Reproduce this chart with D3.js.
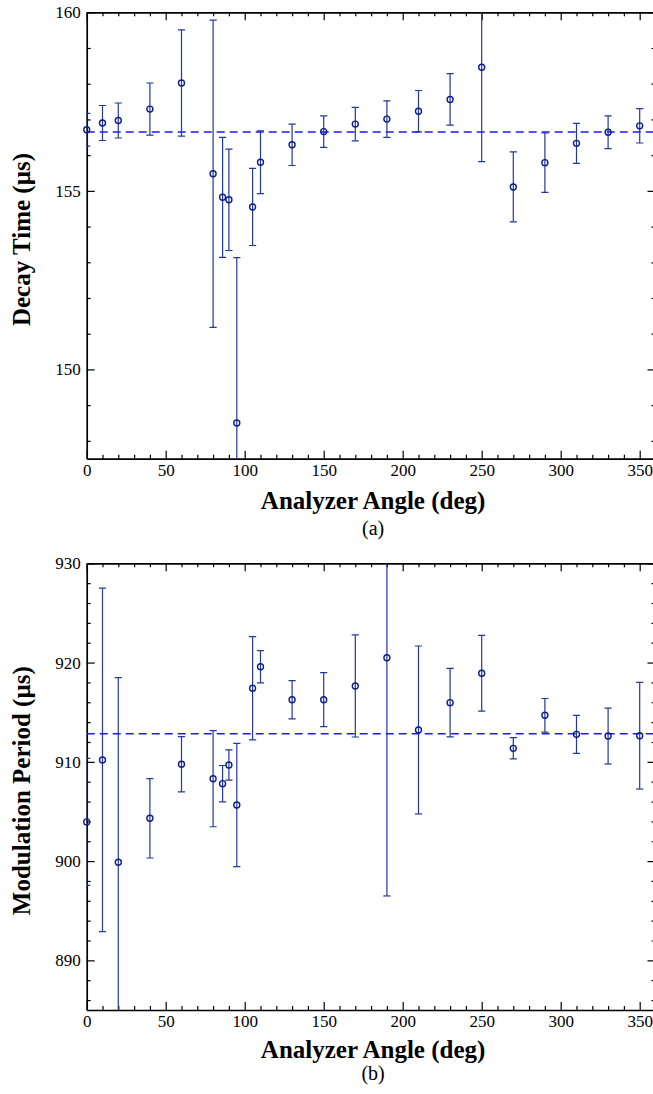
<!DOCTYPE html>
<html><head><meta charset="utf-8">
<script src="https://cdn.jsdelivr.net/npm/d3@7"></script>
<style>body{margin:0;background:#fff}svg{display:block}text{font-family:"Liberation Serif","Times New Roman",Times,serif}</style>
</head><body>
<svg id="c" width="653" height="1094"></svg>
<script>
const angles = [0,10,20,40,60,80,86,90,95,105,110,130,150,170,190,210,230,250,270,290,310,330,350];
const decayTime = [156.71,156.90,156.97,157.29,158.02,155.48,154.82,154.75,148.50,154.55,155.80,156.29,156.66,156.87,157.01,157.23,157.56,158.46,155.11,155.79,156.33,156.64,156.82];
const decayErr  = [0.46,0.49,0.49,0.73,1.49,4.30,1.68,1.42,4.63,1.08,0.88,0.58,0.44,0.47,0.51,0.58,0.72,2.64,0.98,0.83,0.56,0.46,0.48];
const decayMean = 156.65;
const modPeriod = [903.95,910.19,899.88,904.31,909.75,908.30,907.80,909.68,905.65,917.41,919.58,916.26,916.26,917.64,920.49,913.21,915.96,918.92,911.36,914.69,912.77,912.60,912.63];
const modErr    = [6.4,17.3,18.6,4.0,2.78,4.84,1.83,1.53,6.2,5.2,1.63,1.93,2.72,5.14,24.0,8.46,3.45,3.81,1.07,1.69,1.92,2.82,5.37];
const modMean = 912.83;
const xTicks = [0,50,100,150,200,250,300,350];
const xDomain = [0,360];
const decayTicks = [150,155,160];
const decayDomain = [147.5,160];
const modTicks = [890,900,910,920,930];
const modDomain = [885,930];

const SERIF = '"Liberation Serif","Times New Roman",Times,serif';
const svg = d3.select('#c');
const left = 86.7, right = 655.5;
const x = d3.scaleLinear().domain(xDomain).range([left, right]);

function panel(id, top, bottom, yDomain, yTicks, minorStep, values, errs, mean, yLabel, xlabY, subY, sub) {
  const y = d3.scaleLinear().domain(yDomain).range([bottom, top]);
  const g = svg.append('g');
  g.append('clipPath').attr('id', 'clip' + id).append('rect')
    .attr('x', left).attr('y', top).attr('width', right - left).attr('height', bottom - top);

  const xMinor = d3.range(xDomain[0], xDomain[1] + 0.001, 10).filter(v => v % 50 !== 0);
  const yMinor = d3.range(Math.ceil(yDomain[0] / minorStep) * minorStep, yDomain[1] + 0.001, minorStep)
    .filter(v => !yTicks.some(t => Math.abs(t - v) < 1e-6));

  const style = (a) => {
    a.attr('font-family', SERIF).attr('font-size', 17);
    a.select('.domain').attr('stroke', '#000').attr('stroke-width', 1.7);
    a.selectAll('.tick line').attr('stroke', '#000').attr('stroke-width', 1.2);
    a.selectAll('text').style('font-family', SERIF).style('font-size', '17px').attr('fill', '#000');
  };
  // minor ticks
  g.append('g').attr('transform', `translate(0,${bottom})`)
    .call(d3.axisBottom(x).tickValues(xMinor).tickSize(-4).tickSizeOuter(0).tickFormat('')).call(style).select('.domain').remove();
  g.append('g').attr('transform', `translate(0,${top})`)
    .call(d3.axisTop(x).tickValues(xMinor).tickSize(-4).tickSizeOuter(0).tickFormat('')).call(style).select('.domain').remove();
  g.append('g').attr('transform', `translate(${left},0)`)
    .call(d3.axisLeft(y).tickValues(yMinor).tickSize(-4).tickSizeOuter(0).tickFormat('')).call(style).select('.domain').remove();
  g.append('g').attr('transform', `translate(${right},0)`)
    .call(d3.axisRight(y).tickValues(yMinor).tickSize(-4).tickSizeOuter(0).tickFormat('')).call(style).select('.domain').remove();
  // major axes
  g.append('g').attr('transform', `translate(0,${bottom})`)
    .call(d3.axisBottom(x).tickValues(xTicks).tickSize(-8).tickSizeOuter(0).tickPadding(5).tickFormat(d3.format('d'))).call(style);
  g.append('g').attr('transform', `translate(0,${top})`)
    .call(d3.axisTop(x).tickValues(xTicks).tickSize(-8).tickSizeOuter(0).tickFormat('')).call(style);
  g.append('g').attr('transform', `translate(${left},0)`)
    .call(d3.axisLeft(y).tickValues(yTicks).tickSize(-8).tickSizeOuter(0).tickPadding(6).tickFormat(d3.format('d'))).call(style);
  g.append('g').attr('transform', `translate(${right},0)`)
    .call(d3.axisRight(y).tickValues(yTicks).tickSize(-8).tickSizeOuter(0).tickFormat('')).call(style);

  // mean dashed line
  g.append('line').attr('clip-path', `url(#clip${id})`)
    .attr('x1', x(xDomain[0])).attr('x2', x(xDomain[1])).attr('y1', y(mean)).attr('y2', y(mean))
    .attr('stroke', '#1a1aff').attr('stroke-width', 1.6).attr('stroke-dasharray', '8,5');

  const data = angles.map((a, i) => ({a, v: values[i], e: errs[i]}));
  const eb = g.append('g').attr('clip-path', `url(#clip${id})`)
    .attr('stroke', '#23399b').attr('stroke-width', 1.2).attr('fill', 'none');
  const cap = 3.6;
  data.forEach(d => {
    const cx = x(d.a), y1 = y(d.v + d.e), y2 = y(d.v - d.e);
    eb.append('line').attr('x1', cx).attr('x2', cx).attr('y1', y1).attr('y2', y2);
    eb.append('line').attr('x1', cx - cap).attr('x2', cx + cap).attr('y1', y1).attr('y2', y1);
    eb.append('line').attr('x1', cx - cap).attr('x2', cx + cap).attr('y1', y2).attr('y2', y2);
  });
  g.append('g').selectAll('circle').data(data).join('circle')
    .attr('cx', d => x(d.a)).attr('cy', d => y(d.v)).attr('r', 3)
    .attr('fill', 'none').attr('stroke', '#0b1e8c').attr('stroke-width', 1.4);

  // labels
  g.append('text').attr('transform', `translate(30,${(top + bottom) / 2 + 4}) rotate(-90)`)
    .attr('text-anchor', 'middle').style('font-family', SERIF).attr('font-weight', 'bold')
    .attr('font-size', 25).text(yLabel);
  g.append('text').attr('x', (left + right) / 2 + 2).attr('y', xlabY)
    .attr('text-anchor', 'middle').style('font-family', SERIF).attr('font-weight', 'bold')
    .attr('font-size', 25).text('Analyzer Angle (deg)');
  g.append('text').attr('x', (left + right) / 2 + 2).attr('y', subY)
    .attr('text-anchor', 'middle').style('font-family', SERIF)
    .attr('font-size', 20).text(sub);
}

panel('a', 12.3, 458.7, decayDomain, decayTicks, 1, decayTime, decayErr, decayMean, 'Decay Time (µs)', 509, 535, '(a)');
panel('b', 563.3, 1010, modDomain, modTicks, 2, modPeriod, modErr, modMean, 'Modulation Period (µs)', 1058, 1080, '(b)');
</script>
</body></html>
